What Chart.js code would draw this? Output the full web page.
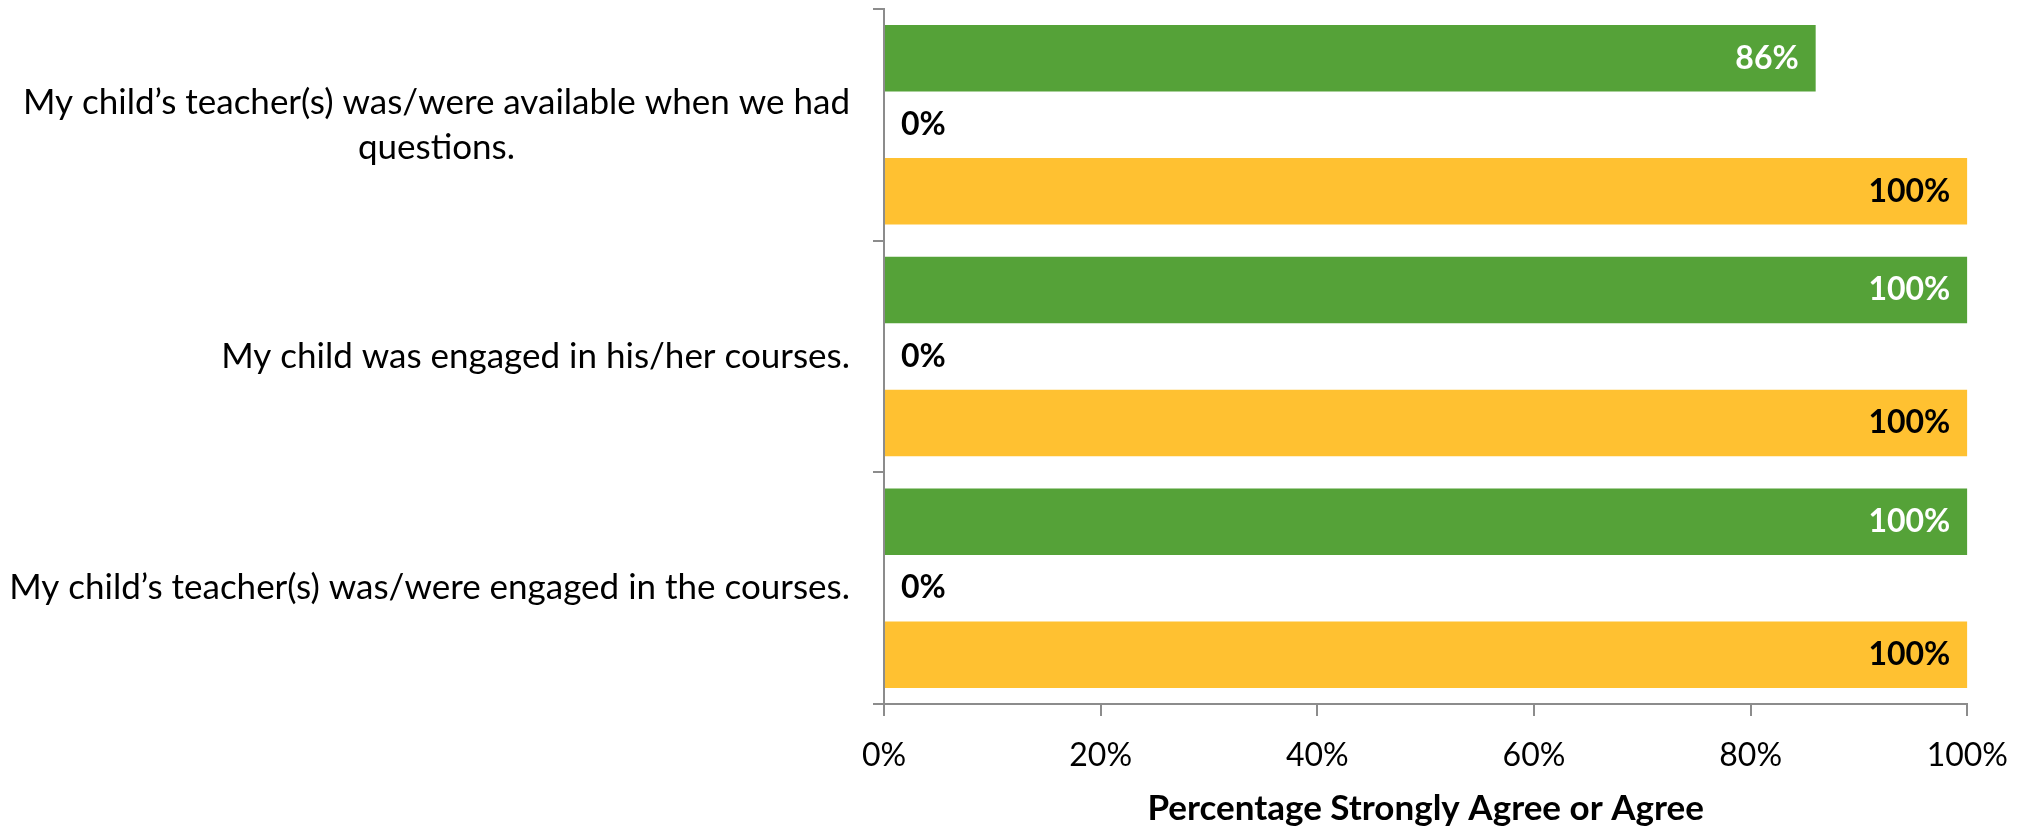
<!DOCTYPE html>
<html>
<head>
<meta charset="utf-8">
<script src="https://cdn.jsdelivr.net/npm/chart.js@4.4.1/dist/chart.umd.min.js"></script>
<style>
  body { margin: 0; background: #ffffff; }
  canvas { display: block; }
</style>
</head>
<body>
<canvas id="graf" width="2028" height="826"></canvas>
<script>
// podatki
const kategorije = [
    ['My child’s teacher(s) was/were available when we had', 'questions.'],
    'My child was engaged in his/her courses.',
    'My child’s teacher(s) was/were engaged in the courses.'
];
const vrsta1 = [86, 100, 100];
const vrsta2 = [0, 0, 0];
const vrsta3 = [100, 100, 100];
const x_oznake = [0, 20, 40, 60, 80, 100];
const naslov_x = 'Percentage Strongly Agree or Agree';

let zelena = '#55A238';
let rumena = '#FFC131';
let crta_osi = '#8c8c8c';
let font = 'Lato';
let vel_pisave = 32;
let vel_kategorij = 35;
let barve_oznak = ['#ffffff', '#000000', '#000000'];

// oznake kategorij (druga vrstica je centrirana pod prvo, kot v Excelu)
const oznake_kategorij = {
    id: 'oznake_kategorij',
    afterDraw(chart) {
        const ctx = chart.ctx;
        const os = chart.scales.y;
        const desno = os.right - 34;
        const visina_vrstice = 45;
        ctx.save();
        ctx.font = vel_kategorij + 'px ' + font;
        ctx.fillStyle = '#000000';
        ctx.textBaseline = 'middle';
        ctx.textAlign = 'center';
        kategorije.forEach((oznaka, i) => {
            const vrstice = Array.isArray(oznaka) ? oznaka : [oznaka];
            const sirina = Math.max(...vrstice.map(v => ctx.measureText(v).width));
            const sredina_x = desno - sirina / 2;
            const y0 = os.getPixelForTick(i) - (vrstice.length - 1) * visina_vrstice / 2;
            vrstice.forEach((v, j) => {
                ctx.fillText(v, sredina_x, y0 + j * visina_vrstice);
            });
        });
        ctx.restore();
    }
};

// vrednosti na stolpcih
const oznake_vrednosti = {
    id: 'oznake_vrednosti',
    afterDatasetsDraw(chart) {
        const ctx = chart.ctx;
        ctx.save();
        ctx.font = 'bold ' + vel_pisave + 'px ' + font;
        ctx.textBaseline = 'middle';
        chart.data.datasets.forEach((ds, i) => {
            const meta = chart.getDatasetMeta(i);
            meta.data.forEach((stolpec, j) => {
                const v = ds.data[j];
                ctx.fillStyle = barve_oznak[i];
                if (v === 0) {
                    ctx.textAlign = 'left';
                    ctx.fillText(v + '%', stolpec.x + 17, stolpec.y);
                } else {
                    ctx.textAlign = 'right';
                    ctx.fillText(v + '%', stolpec.x - 17, stolpec.y);
                }
            });
        });
        ctx.restore();
    }
};

const platno = document.getElementById('graf').getContext('2d');
const graf = new Chart(platno, {
    type: 'bar',
    data: {
        labels: kategorije,
        datasets: [
            { label: 'Series 1', data: vrsta1, backgroundColor: zelena },
            { label: 'Series 2', data: vrsta2, backgroundColor: zelena },
            { label: 'Series 3', data: vrsta3, backgroundColor: rumena }
        ]
    },
    options: {
        indexAxis: 'y',
        responsive: false,
        animation: false,
        categoryPercentage: 0.861,
        barPercentage: 1,
        layout: { padding: { top: 9, right: 59, left: 0, bottom: 0 } },
        plugins: {
            legend: { display: false },
            tooltip: { enabled: false }
        },
        scales: {
            x: {
                min: 0,
                max: 100,
                afterBuildTicks: os => { os.ticks = x_oznake.map(v => ({ value: v })); },
                afterFit: os => { os.height = 122; },
                border: { display: true, color: crta_osi, width: 2 },
                grid: { drawOnChartArea: false, drawTicks: true, tickLength: 12, color: crta_osi, lineWidth: 2 },
                ticks: {
                    padding: 20,
                    color: '#000000',
                    font: { size: vel_pisave, family: font },
                    callback: v => v + '%'
                },
                title: {
                    display: true,
                    text: naslov_x,
                    color: '#000000',
                    padding: { top: 0, bottom: 0 },
                    font: { size: vel_kategorij, family: font, weight: 'bold', lineHeight: 1.0 }
                }
            },
            y: {
                afterFit: os => { os.width = 884; },
                border: { display: true, color: crta_osi, width: 2 },
                grid: { drawOnChartArea: false, drawTicks: true, tickLength: 11, color: crta_osi, lineWidth: 2, offset: true },
                ticks: { display: false }
            }
        }
    },
    plugins: [oznake_kategorij, oznake_vrednosti]
});
</script>
</body>
</html>
